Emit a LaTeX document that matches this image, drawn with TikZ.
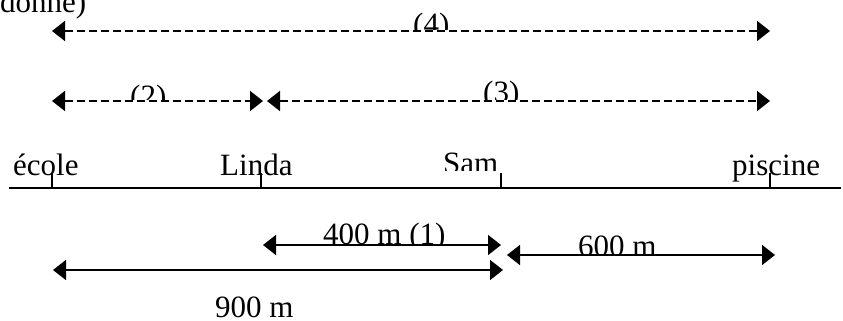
\documentclass[tikz,border=0pt]{standalone}
\usepackage{fontspec}
\setmainfont{Liberation Serif}
\usetikzlibrary{arrows.meta}
\tikzset{
  lbl/.style={inner sep=0pt, anchor=base west, font=\fontsize{31}{31}\selectfont},
  axisline/.style={line width=2.7pt},
  tickline/.style={line width=2pt},
  dimd/.style={line width=1.8pt, dash pattern=on 8pt off 4pt, {Triangle[length=13pt,width=20pt]}-{Triangle[length=13pt,width=20pt]}},
  dims/.style={line width=1.6pt, {Triangle[length=13pt,width=20pt]}-{Triangle[length=13pt,width=20pt]}}
}
\begin{document}
\begin{tikzpicture}[x=1pt,y=-1pt]
\useasboundingbox (0,0) rectangle (843,321);
\clip (0,0) rectangle (843,321);
% top cut text
\node[lbl] (donne) at (0,12.5) {donne)};
% axis
\coordinate (A0) at (9,188);
\coordinate (A1) at (841,188);
\draw[axisline] (A0) -- (A1);
\coordinate (E) at (52,188);
\coordinate (L) at (261,188);
\coordinate (S) at (501,188);
\coordinate (P) at (770,188);
\foreach \c in {E,L,S,P} \draw[tickline] (\c) -- ++(0,-15);
\node[lbl] (ecole) at (13,175) {école};
\node[lbl] (linda) at (220,175) {Linda};
\begin{scope}\clip (430,140) rectangle (510,170);
\node[lbl] (sam) at (443,173) {Sam};
\end{scope}
\node[lbl] (piscine) at (732,175) {piscine};
% dashed arrows
\coordinate (E4) at (52,31);
\coordinate (P4) at (770,31);
\draw[dimd] (E4) -- (P4);
\begin{scope}\clip (400,0) rectangle (460,29.5);
\node[lbl] (t4) at (413,34.5) {(4)};
\end{scope}
\coordinate (E2) at (52,101);
\coordinate (L2) at (263,101);
\draw[dimd] (E2) -- (L2);
\begin{scope}\clip (120,60) rectangle (180,99.5);
\node[lbl] (t2) at (130,106) {(2)};
\end{scope}
\coordinate (L3) at (267,101);
\coordinate (P3) at (770,101);
\draw[dimd] (L3) -- (P3);
\begin{scope}\clip (470,60) rectangle (530,99.5);
\node[lbl] (t3) at (483,102) {(3)};
\end{scope}
% solid arrows
\coordinate (L1) at (263,245);
\coordinate (S1) at (501,245);
\draw[dims] (L1) -- (S1);
\begin{scope}\clip (310,200) rectangle (460,243.5);
\node[lbl] (t1) at (323,244) {400 m (1)};
\end{scope}
\coordinate (S6) at (507,255);
\coordinate (P6) at (775,255);
\draw[dims] (S6) -- (P6);
\begin{scope}\clip (560,210) rectangle (680,253.5);
\node[lbl] (t6) at (578,256) {600 m};
\end{scope}
\coordinate (E9) at (53,270);
\coordinate (S9) at (503,270);
\draw[dims] (E9) -- (S9);
\node[lbl] (t9) at (215,317) {900 m};
\end{tikzpicture}
\end{document}
